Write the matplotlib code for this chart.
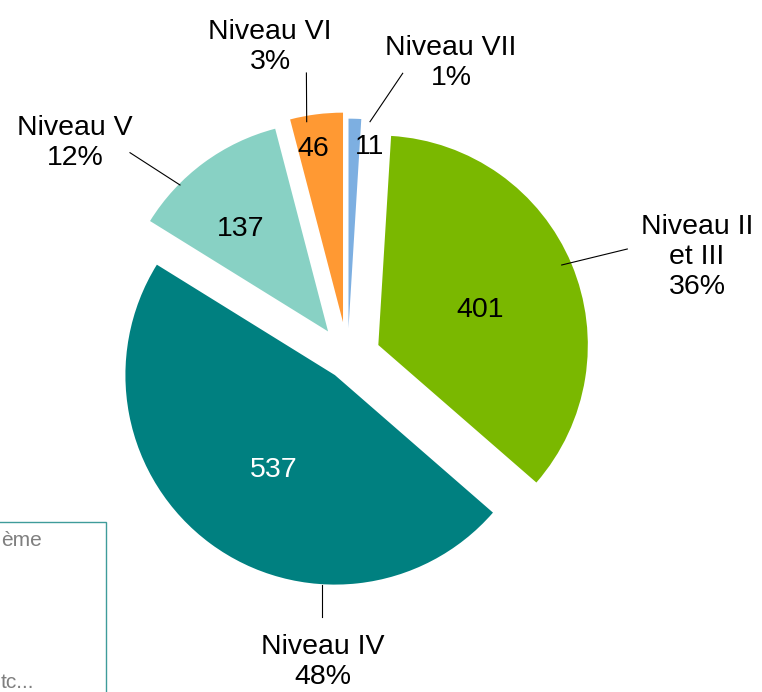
import matplotlib
matplotlib.use('Agg')
import matplotlib.pyplot as plt
from matplotlib.patches import Rectangle

# ---- data ----
categories = ['Niveau II\net III', 'Niveau IV', 'Niveau V', 'Niveau VI', 'Niveau VII']
counts = [401, 537, 137, 46, 11]
percent_labels = ['36%', '48%', '12%', '3%', '1%']

# ---- styles / layout ----
colors = ['#7AB800', '#008080', '#88D1C4', '#FF9933', '#7DAFE1']
explode_frac = [0.159, 0.102, 0.157, 0.172, 0.142]   # fraction of radius
value_colors = ['black', 'white', 'black', 'black', 'black']

W, H = 762, 692
FONT = 'Liberation Sans'
FS = 20.5
RADIUS = 209.5

def Y(y):  # image-style y (top=0) to axes y
    return H - y

value_pos = [(480.5, 310), (273.5, 470), (241, 229), (313, 149), (370, 147)]
label_pos = [(697, 257), (323, 662), (75, 143), (270, 47), (451, 63)]
leaders = [((561.7, 265), (627.3, 249)),
           ((321.7, 585), (321.7, 616.7)),
           ((180, 185), (130, 152.7)),
           ((306.7, 121.7), (306.4, 73)),
           ((370, 121.7), (402.7, 73.3))]

fig = plt.figure(figsize=(W / 100, H / 100), dpi=100)
ax = fig.add_axes([0, 0, 1, 1])
ax.pie(counts, colors=colors, explode=[e * RADIUS for e in explode_frac],
       startangle=86.5, counterclock=False, center=(347.6, Y(357.9)),
       radius=RADIUS, wedgeprops=dict(linewidth=0))
ax.set_xlim(0, W)
ax.set_ylim(0, H)
ax.set_aspect('equal')
ax.axis('off')

for v, (x, y), c in zip(counts, value_pos, value_colors):
    ax.text(x, Y(y), str(v), ha='center', va='center', color=c,
            fontsize=FS, family=FONT)

for cat, pct, (x, y) in zip(categories, percent_labels, label_pos):
    ax.text(x, Y(y), f"{cat}\n{pct}", ha='center', va='center', color='black',
            fontsize=FS, family=FONT, linespacing=1.2, multialignment='center')

for (x0, y0), (x1, y1) in leaders:
    ax.plot([x0, x1], [Y(y0), Y(y1)], color='black', lw=0.8)

# partially visible text box at bottom-left
ax.add_patch(Rectangle((-10, Y(700)), 116, 700 - 521.7, fill=False,
                       edgecolor='#3F9C9A', lw=1.0))
ax.text(42, Y(540), 'ème', ha='right', va='center', color='#7F7F7F',
        fontsize=15, family=FONT)
ax.text(34, Y(682), 'tc...', ha='right', va='center', color='#7F7F7F',
        fontsize=15, family=FONT)

fig.savefig('out.png', dpi=100)
